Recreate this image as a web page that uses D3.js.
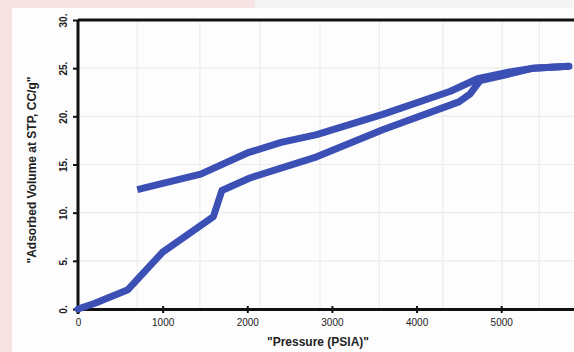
<!DOCTYPE html>
<html>
<head>
<meta charset="utf-8">
<script src="https://cdn.jsdelivr.net/npm/d3@7/dist/d3.min.js"></script>
<style>
  body { margin: 0; background: #f4f4f4; }
  svg { display: block; }
</style>
</head>
<body>
<div id="chart"></div>
<script>

// adsorption branch (lower), pressure in PSIA, volume in cc/g
let adsP = [0, 200, 590, 800, 1000, 1600, 1700, 2030, 2820, 3600, 4500, 4630, 4750, 5100, 5380, 5800];
let adsV = [0, 0.6, 2.0, 4.0, 5.9, 9.6, 12.3, 13.6, 15.8, 18.6, 21.5, 22.3, 23.7, 24.4, 25.0, 25.2];
// desorption branch (upper)
let desP = [5800, 5380, 5100, 4720, 4400, 3600, 2820, 2400, 2000, 1450, 700];
let desV = [25.2, 25.0, 24.6, 23.9, 22.6, 20.2, 18.1, 17.3, 16.2, 14.0, 12.4];

let xTicks = [0, 1000, 2000, 3000, 4000, 5000];
let yTicks = [0, 5, 10, 15, 20, 25, 30];
let xGrid = [700, 1440, 2150, 2860, 3560, 4310, 5010, 5450];

let svgWidth = 574, svgHeight = 352;
let margin = {top: 20, right: 0, bottom: 43, left: 78};
let width = svgWidth - margin.left - margin.right,
    height = svgHeight - margin.top - margin.bottom;

let svg = d3.select("#chart").append("svg")
    .attr("width", svgWidth)
    .attr("height", svgHeight);

// backgrounds
svg.append("rect").attr("x", 0).attr("y", 0).attr("width", 255).attr("height", 8).attr("fill", "#f7e3e3");
svg.append("rect").attr("x", 0).attr("y", 0).attr("width", 12).attr("height", svgHeight).attr("fill", "#f7e3e3");
svg.append("rect").attr("x", 12).attr("y", 8).attr("width", svgWidth - 12).attr("height", svgHeight - 8).attr("fill", "#fdfdfd");

let g = svg.append("g")
    .attr("transform", "translate(" + margin.left + "," + margin.top + ")");

let x = d3.scaleLinear().domain([0, 5860]).range([0, width]);
let y = d3.scaleLinear().domain([0, 30]).range([height, 0]);

// faint grid
g.selectAll(".gx").data(xGrid).enter().append("line")
    .attr("x1", d => x(d)).attr("x2", d => x(d))
    .attr("y1", 0).attr("y2", height)
    .attr("stroke", "#ececec").attr("stroke-width", 1.2);
g.selectAll(".gy").data(yTicks.slice(1, 6)).enter().append("line")
    .attr("x1", 0).attr("x2", width)
    .attr("y1", d => y(d)).attr("y2", d => y(d))
    .attr("stroke", "#ececec").attr("stroke-width", 1.2);

// frame lines
g.append("line").attr("x1", 0).attr("x2", width).attr("y1", 0).attr("y2", 0)
    .attr("stroke", "#111").attr("stroke-width", 3);

let xAxis = g.append("g")
    .attr("transform", "translate(0," + height + ")")
    .call(d3.axisBottom(x).tickValues(xTicks).tickSize(4).tickSizeOuter(0).tickFormat(d3.format("d")));
xAxis.select(".domain").attr("stroke", "#111").attr("stroke-width", 3);
xAxis.selectAll(".tick line").attr("stroke", "#111").attr("stroke-width", 2).attr("y1", -3);
xAxis.selectAll("text")
    .attr("font-family", "Liberation Sans, Arial, sans-serif")
    .attr("font-size", "10px")
    .attr("fill", "#222")
    .attr("dy", "1em");

let yAxis = g.append("g")
    .call(d3.axisLeft(y).tickValues(yTicks).tickSize(5).tickSizeOuter(0).tickFormat(d => d + "."));
yAxis.select(".domain").attr("stroke", "#111").attr("stroke-width", 3).attr("d", "M0,0V" + (height + 5));
yAxis.selectAll(".tick line").attr("stroke", "#111").attr("stroke-width", 2);
yAxis.selectAll("text")
    .attr("font-family", "Liberation Sans, Arial, sans-serif")
    .attr("font-size", "10px")
    .attr("font-weight", "bold")
    .attr("fill", "#222")
    .attr("x", 0).attr("dy", 0)
    .attr("text-anchor", "middle")
    .attr("transform", "translate(-15,0) rotate(-90)")
    .attr("dominant-baseline", "central");

// curves
let line = d3.line();
let adsPts = adsP.map((p, i) => [x(p), y(adsV[i])]);
let desPts = desP.map((p, i) => [x(p), y(desV[i])]);

g.append("path")
    .attr("d", line(adsPts))
    .attr("fill", "none")
    .attr("stroke", "#3b4fb4")
    .attr("stroke-width", 7)
    .attr("stroke-linejoin", "round")
    .attr("stroke-linecap", "round");

g.append("path")
    .attr("d", line(desPts))
    .attr("fill", "none")
    .attr("stroke", "#3b4fb4")
    .attr("stroke-width", 7)
    .attr("stroke-linejoin", "round")
    .attr("stroke-linecap", "butt");

// axis titles
svg.append("text")
    .attr("x", 318).attr("y", 346)
    .attr("text-anchor", "middle")
    .attr("font-family", "Liberation Sans, Arial, sans-serif")
    .attr("font-size", "12px")
    .attr("font-weight", "bold")
    .attr("fill", "#222")
    .text("\"Pressure (PSIA)\"");

svg.append("text")
    .attr("transform", "translate(36,170) rotate(-90)")
    .attr("text-anchor", "middle")
    .attr("font-family", "Liberation Sans, Arial, sans-serif")
    .attr("font-size", "12px")
    .attr("font-weight", "bold")
    .attr("fill", "#222")
    .text("\"Adsorbed Volume at STP, CC/g\"");

</script>
</body>
</html>
